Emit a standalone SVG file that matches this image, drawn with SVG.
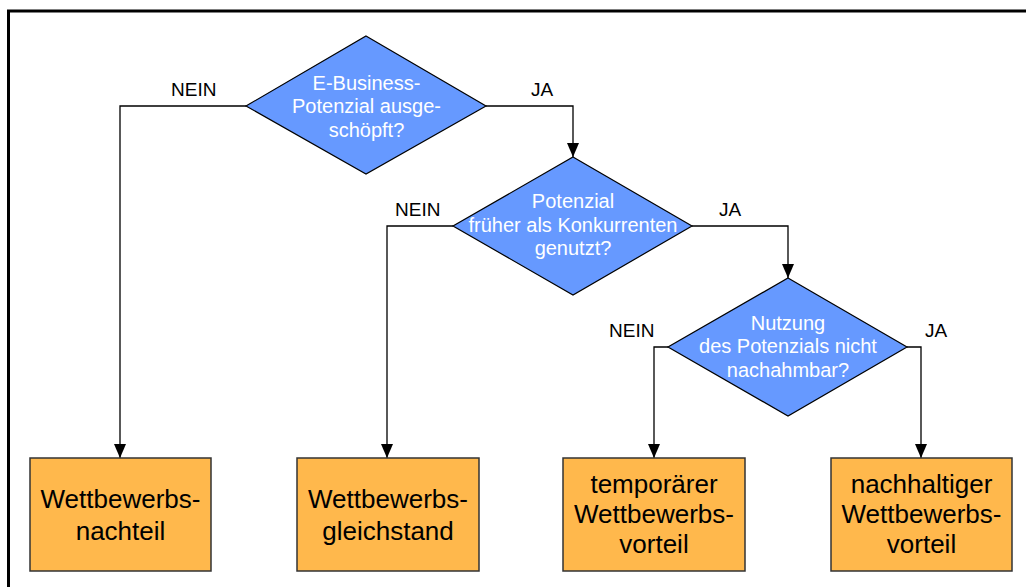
<svg xmlns="http://www.w3.org/2000/svg" width="1026" height="587" viewBox="0 0 1026 587">
<defs>
<marker id="arr" markerWidth="14" markerHeight="12" refX="14" refY="6" orient="auto" markerUnits="userSpaceOnUse">
<path d="M0,0 L14,6 L0,12 Z" fill="#000"/>
</marker>
<style>
.dia{fill:#6699FF;stroke:#000;stroke-width:1.2}
.box{fill:#FFB84C;stroke:#333;stroke-width:1.5}
.dt{font-family:"Liberation Sans",Arial,sans-serif;font-size:20px;fill:#fff;text-anchor:middle}
.bt{font-family:"Liberation Sans",Arial,sans-serif;font-size:26px;fill:#000;text-anchor:middle}
.lb{font-family:"Liberation Sans",Arial,sans-serif;font-size:19px;fill:#000}
.con{fill:none;stroke:#000;stroke-width:1.3}
</style>
</defs>
<rect x="0" y="0" width="1026" height="587" fill="#fff"/>
<rect x="8.5" y="11" width="1100" height="700" fill="none" stroke="#000" stroke-width="3"/>
<g id="connectors">
<path class="con" d="M246,106 H120 V458" marker-end="url(#arr)"/>
<path class="con" d="M486,106 H573 V157" marker-end="url(#arr)"/>
<path class="con" d="M453,226 H387 V458" marker-end="url(#arr)"/>
<path class="con" d="M692,226 H788 V278" marker-end="url(#arr)"/>
<path class="con" d="M668,347 H654 V458" marker-end="url(#arr)"/>
<path class="con" d="M907,347 H921 V458" marker-end="url(#arr)"/>
<text class="lb" x="171" y="96">NEIN</text>
<text class="lb" x="531" y="96">JA</text>
<text class="lb" x="395" y="216">NEIN</text>
<text class="lb" x="719" y="216">JA</text>
<text class="lb" x="609" y="337">NEIN</text>
<text class="lb" x="925" y="337">JA</text>
</g>
<g id="d1">
<polygon class="dia" points="366,36 486,106 366,174 246,106"/>
<text class="dt" x="366.5" y="90">E-Business-</text>
<text class="dt" x="366.5" y="113">Potenzial ausge-</text>
<text class="dt" x="366.5" y="137">schöpft?</text>
</g>
<g id="d2">
<polygon class="dia" points="573,157 692,226 573,295 453,226"/>
<text class="dt" x="573" y="208">Potenzial</text>
<text class="dt" x="573" y="232">früher als Konkurrenten</text>
<text class="dt" x="573" y="255">genutzt?</text>
</g>
<g id="d3">
<polygon class="dia" points="788,278 907,347 788,416 668,347"/>
<text class="dt" x="788" y="330">Nutzung</text>
<text class="dt" x="788" y="353">des Potenzials nicht</text>
<text class="dt" x="788" y="377">nachahmbar?</text>
</g>
<g id="b1">
<rect class="box" x="30" y="458" width="181" height="113"/>
<text class="bt" x="120.5" y="508">Wettbewerbs-</text>
<text class="bt" x="120.5" y="540">nachteil</text>
</g>
<g id="b2">
<rect class="box" x="297" y="458" width="182" height="113"/>
<text class="bt" x="388" y="508">Wettbewerbs-</text>
<text class="bt" x="388" y="540">gleichstand</text>
</g>
<g id="b3">
<rect class="box" x="563" y="458" width="182" height="113"/>
<text class="bt" x="654" y="493">temporärer</text>
<text class="bt" x="654" y="523">Wettbewerbs-</text>
<text class="bt" x="654" y="553">vorteil</text>
</g>
<g id="b4">
<rect class="box" x="831" y="458" width="181" height="113"/>
<text class="bt" x="921.5" y="493">nachhaltiger</text>
<text class="bt" x="921.5" y="523">Wettbewerbs-</text>
<text class="bt" x="921.5" y="553">vorteil</text>
</g>
</svg>
